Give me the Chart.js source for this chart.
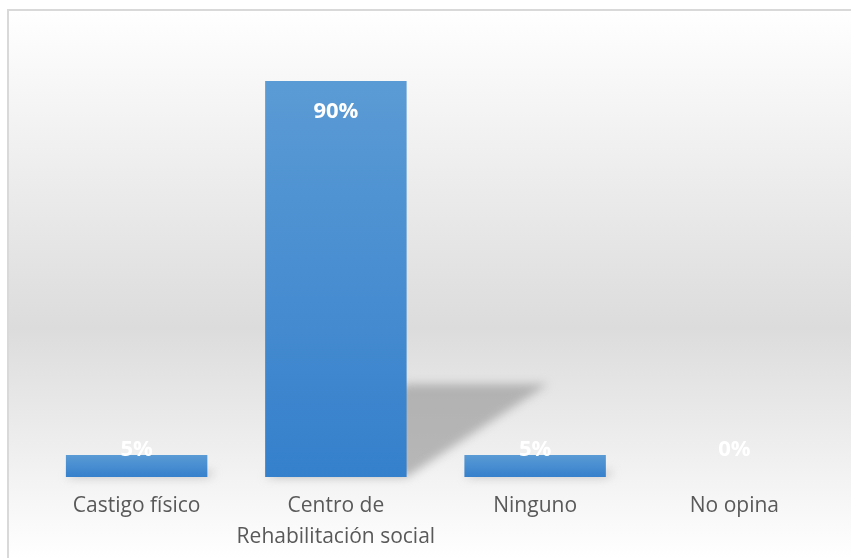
<!DOCTYPE html>
<html>
<head>
<meta charset="utf-8">
<script src="https://cdn.jsdelivr.net/npm/chart.js@4/dist/chart.umd.min.js"></script>
<style>
  html, body { margin: 0; padding: 0; background: #ffffff; }
  #wrap { width: 851px; height: 558px; }
</style>
</head>
<body>
<div id="wrap"><canvas id="respuestaChart" width="851" height="558"></canvas></div>
<script>
const categories = ['Castigo físico', ['Centro de', 'Rehabilitación social'], 'Ninguno', 'No opina'];
const percentages = [5, 90, 5, 0];
const yMax = 100;

// frame and soft grey backdrop behind the plot
const backdropPlugin = {
    id: 'backdrop',
    beforeDraw(chart) {
        const ctx = chart.ctx;
        const w = chart.width, h = chart.height;
        ctx.save();
        const g = ctx.createLinearGradient(0, 10, 0, h);
        g.addColorStop(0, '#ffffff');
        g.addColorStop(0.58, '#dcdcdc');
        g.addColorStop(1, '#ffffff');
        ctx.fillStyle = g;
        ctx.fillRect(8, 10, w - 8, h - 10);
        ctx.strokeStyle = '#d9d9d9';
        ctx.lineWidth = 2;
        ctx.beginPath();
        ctx.moveTo(8, h);
        ctx.lineTo(8, 10);
        ctx.lineTo(w, 10);
        ctx.stroke();
        ctx.restore();
    }
};

// perspective shadow thrown to the right of each bar
const shadowPlugin = {
    id: 'barShadow',
    beforeDatasetsDraw(chart) {
        const ctx = chart.ctx;
        const meta = chart.getDatasetMeta(0);
        ctx.save();
        ctx.filter = 'blur(5px)';
        ctx.fillStyle = 'rgba(150,150,150,0.65)';
        meta.data.forEach(bar => {
            const h = bar.base - bar.y;
            if (h <= 0) return;
            const half = bar.width / 2;
            const sh = h * 0.235;
            const shift = h * 0.357;
            ctx.beginPath();
            ctx.moveTo(bar.x - half, bar.base);
            ctx.lineTo(bar.x + half, bar.base);
            ctx.lineTo(bar.x + half + shift, bar.base - sh);
            ctx.lineTo(bar.x - half + shift, bar.base - sh);
            ctx.closePath();
            ctx.fill();
        });
        ctx.restore();
    }
};

// white percentage labels near the top of each bar
const valueLabelPlugin = {
    id: 'valueLabels',
    afterDatasetsDraw(chart) {
        const ctx = chart.ctx;
        const meta = chart.getDatasetMeta(0);
        ctx.save();
        ctx.font = 'bold 22px "Open Sans"';
        ctx.fillStyle = '#ffffff';
        ctx.textAlign = 'center';
        ctx.textBaseline = 'middle';
        meta.data.forEach((bar, i) => {
            const y = Math.min(bar.y + 31, bar.base - 27);
            ctx.fillText(percentages[i] + '%', bar.x, y);
        });
        ctx.restore();
    }
};

function barFill(context) {
    const chart = context.chart;
    const yScale = chart.scales.y;
    if (!chart.chartArea || !yScale) return '#4a8fd2';
    const top = yScale.getPixelForValue(context.raw);
    const bottom = yScale.getPixelForValue(0);
    if (bottom - top < 1) return '#4a8fd2';
    const g = chart.ctx.createLinearGradient(0, top, 0, bottom);
    g.addColorStop(0, '#5b9bd5');
    g.addColorStop(1, '#3580cc');
    return g;
}

new Chart(document.getElementById('respuestaChart'), {
    type: 'bar',
    data: {
        labels: categories,
        datasets: [{
            data: percentages,
            backgroundColor: barFill,
            borderWidth: 0,
            categoryPercentage: 1,
            barPercentage: 0.71
        }]
    },
    options: {
        responsive: false,
        animation: false,
        layout: { padding: { left: 37, right: 17, top: 37, bottom: -9 } },
        plugins: {
            legend: { display: false },
            tooltip: { enabled: false }
        },
        scales: {
            x: {
                grid: { display: false, drawTicks: false },
                border: { display: false },
                ticks: {
                    color: '#595959',
                    font: { family: 'Open Sans', size: 21, lineHeight: 1.476 },
                    padding: 14,
                    maxRotation: 0,
                    autoSkip: false
                }
            },
            y: {
                display: false,
                min: 0,
                max: yMax
            }
        }
    },
    plugins: [backdropPlugin, shadowPlugin, valueLabelPlugin]
});
</script>
</body>
</html>
